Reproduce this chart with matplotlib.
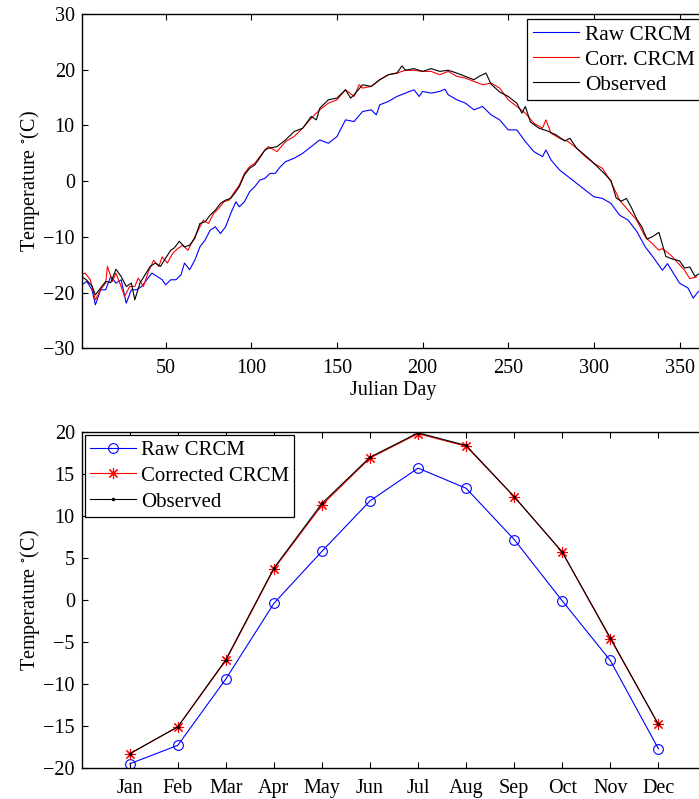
import numpy as np
import matplotlib
matplotlib.use("Agg")
import matplotlib.pyplot as plt

plt.rcParams['font.family'] = ['Liberation Serif', 'DejaVu Serif']
plt.rcParams['mathtext.fontset'] = 'stix'
plt.rcParams['font.size'] = 14.5

# ---- daily series (top panel) ----
obs_days = [1, 4, 7, 9, 12, 15, 18, 21, 24, 27,
            30, 32, 35, 38, 41, 44, 47, 50, 53, 55,
            58, 61, 64, 67, 70, 73, 76, 79, 82, 85,
            88, 91, 93, 96, 99, 102, 105, 108, 110, 115,
            120, 125, 130, 135, 138, 140, 145, 150, 155, 158,
            160, 165, 170, 175, 180, 185, 188, 190, 195, 200,
            205, 210, 215, 220, 225, 230, 233, 237, 240, 245,
            250, 255, 258, 260, 263, 268, 273, 278, 283, 286,
            290, 295, 298, 302, 306, 310, 313, 316, 319, 322,
            325, 328, 331, 334, 338, 342, 346, 350, 353, 356,
            359, 362]
obs_vals = [-17.1, -17.8, -18.8, -20.4, -19.2, -18.0, -18.2, -15.8, -17.1, -18.9,
            -18.3, -21.3, -18.3, -16.8, -15.3, -14.7, -15.3, -13.8, -12.4, -12.0,
            -10.8, -11.8, -11.5, -10.3, -7.6, -7.3, -6.1, -5.2, -4.0, -3.4,
            -3.1, -1.9, -1.0, 1.1, 2.3, 2.9, 4.2, 5.6, 5.9, 6.2,
            7.4, 8.9, 9.5, 11.6, 11.0, 13.1, 14.6, 14.9, 16.4, 14.9,
            15.5, 17.3, 17.0, 18.2, 19.1, 19.4, 20.7, 19.9, 20.2, 19.7,
            20.2, 19.7, 19.9, 19.4, 18.8, 18.2, 18.8, 19.4, 17.4, 16.0,
            15.2, 14.0, 12.2, 13.4, 10.6, 9.5, 9.0, 8.3, 7.2, 7.7,
            5.9, 4.6, 3.8, 2.6, 1.4, 0.1, -3.0, -3.6, -3.1, -4.8,
            -6.8, -8.2, -10.4, -10.0, -9.2, -13.5, -14.0, -14.3, -15.6, -15.4,
            -17.1, -16.5]

corr_days = [1, 3, 6, 9, 12, 15, 16, 19, 21, 24,
             26, 29, 32, 34, 37, 40, 43, 46, 48, 51,
             54, 57, 60, 63, 66, 69, 72, 75, 78, 81,
             84, 87, 90, 93, 96, 99, 102, 105, 108, 110,
             115, 120, 125, 130, 135, 140, 145, 150, 155, 160,
             163, 165, 170, 175, 180, 185, 190, 195, 200, 205,
             210, 215, 220, 225, 230, 235, 240, 245, 250, 255,
             260, 265, 270, 272, 275, 280, 285, 290, 295, 300,
             305, 310, 315, 320, 325, 330, 335, 338, 340, 345,
             350, 353, 356, 360]
corr_vals = [-16.8, -16.5, -17.7, -21.3, -19.5, -18.3, -15.3, -18.0, -16.5, -18.9,
             -20.7, -18.9, -18.9, -17.4, -18.9, -16.2, -14.2, -15.3, -13.6, -14.7,
             -13.0, -12.1, -11.5, -12.4, -10.6, -8.8, -7.0, -7.6, -5.8, -4.9,
             -3.7, -3.4, -2.0, -0.7, 1.4, 2.6, 3.2, 4.4, 5.6, 6.2,
             5.3, 7.1, 8.0, 9.5, 11.3, 12.8, 14.0, 14.6, 16.4, 15.2,
             17.3, 16.7, 17.0, 18.2, 19.1, 19.4, 19.9, 19.9, 19.7, 19.7,
             19.1, 19.7, 18.8, 18.5, 17.9, 17.3, 17.6, 16.7, 14.6, 13.4,
             12.2, 10.4, 9.5, 11.0, 8.6, 7.7, 7.1, 5.9, 4.4, 3.2,
             2.3, -0.1, -3.4, -5.2, -7.0, -10.0, -11.5, -12.4, -12.1, -13.3,
             -15.0, -16.0, -17.5, -17.2]

raw_days = [1, 4, 7, 9, 12, 15, 18, 21, 24, 27,
            30, 33, 36, 39, 42, 45, 48, 50, 53, 56,
            59, 61, 64, 67, 70, 73, 76, 79, 82, 85,
            88, 91, 93, 96, 99, 102, 105, 108, 111, 114,
            117, 120, 125, 130, 135, 140, 145, 150, 155, 160,
            165, 170, 173, 175, 180, 185, 190, 195, 198, 200,
            205, 210, 213, 215, 220, 225, 230, 235, 240, 245,
            250, 255, 260, 265, 270, 272, 275, 280, 285, 290,
            295, 300, 305, 310, 315, 320, 325, 330, 335, 340,
            343, 345, 350, 355, 358, 361]
raw_vals = [-18.6, -18.0, -19.5, -22.2, -19.5, -19.5, -17.1, -18.3, -17.7, -21.9,
            -19.5, -19.5, -18.9, -17.7, -16.5, -17.1, -17.7, -18.6, -17.7, -17.7,
            -16.8, -14.7, -15.9, -14.2, -11.8, -10.6, -8.8, -8.2, -9.4, -8.2,
            -5.8, -3.7, -4.6, -3.7, -1.9, -1.0, 0.2, 0.5, 1.4, 1.4,
            2.6, 3.5, 4.1, 5.0, 6.2, 7.4, 6.8, 8.0, 11.0, 10.7,
            12.5, 12.8, 11.9, 13.7, 14.3, 15.2, 15.8, 16.4, 15.2, 16.1,
            15.8, 16.1, 16.5, 15.5, 14.6, 14.0, 12.8, 13.4, 11.9, 11.0,
            9.2, 9.2, 7.1, 5.3, 4.4, 5.6, 3.8, 2.0, 0.8, -0.4,
            -1.6, -2.8, -3.1, -4.0, -6.1, -7.0, -9.0, -11.8, -13.8, -16.0,
            -14.8, -15.8, -18.3, -19.2, -21.0, -19.8]

# ---- monthly means (bottom panel) ----
months = ['Jan', 'Feb', 'Mar', 'Apr', 'May', 'Jun',
          'Jul', 'Aug', 'Sep', 'Oct', 'Nov', 'Dec']
raw_monthly = [-19.5, -17.3, -9.4, -0.4, 5.8, 11.8, 15.7, 13.3, 7.2, -0.1, -7.2, -17.7]
corr_monthly = [-18.3, -15.1, -7.2, 3.7, 11.3, 16.9, 19.8, 18.3, 12.3, 5.7, -4.6, -14.8]
obs_monthly = [-18.3, -15.1, -7.1, 3.8, 11.5, 17.0, 19.9, 18.4, 12.3, 5.7, -4.5, -14.8]

W, H = 699, 799
fig = plt.figure(figsize=(W / 100, H / 100), dpi=100)

def px_axes(left, top, right, bottom):
    return fig.add_axes([left / W, 1 - bottom / H, (right - left) / W, (bottom - top) / H])

def style(ax):
    ax.tick_params(direction='in', top=True, right=True, length=4.5, width=0.8)
    ax.tick_params(axis='x', pad=8)
    ax.tick_params(axis='y', pad=5)
    for s in ax.spines.values():
        s.set_linewidth(1.0)

# top panel
ax1 = px_axes(81.7, 14, 705.2, 348.3)
ax1.plot(raw_days, raw_vals, color='b', lw=0.8, label='Raw CRCM')
ax1.plot(corr_days, corr_vals, color='r', lw=0.8, label='Corr. CRCM')
ax1.plot(obs_days, obs_vals, color='k', lw=0.8, label='Observed')
ax1.set_xlim(1, 365)
ax1.set_ylim(-30, 30)
ax1.set_xticks(range(50, 351, 50))
ax1.set_yticks(range(-30, 31, 10))
ax1.set_xlabel('Julian Day', labelpad=2)
ax1.set_ylabel('Temperature $^{\\circ}$(C)', labelpad=1)
style(ax1)
leg1 = ax1.legend(loc='upper right', fancybox=False, edgecolor='k', framealpha=1,
                  fontsize=15.3, borderaxespad=0.25, handlelength=2.2,
                  handletextpad=0.25, labelspacing=0.25, borderpad=0.25)
leg1.get_frame().set_linewidth(0.9)

# bottom panel
ax2 = px_axes(81.7, 432, 706.4, 768)
x = np.arange(1, 13)
ax2.plot(x, raw_monthly, color='b', lw=0.8, marker='o', mfc='none', mec='b',
         ms=7, mew=0.8, label='Raw CRCM')
ax2.plot(x, corr_monthly, color='r', lw=0.8, marker=(8, 2, 0), mec='r',
         ms=8, mew=0.8, label='Corrected CRCM')
ax2.plot(x, obs_monthly, color='k', lw=0.8, marker='.', ms=3, label='Observed')
ax2.set_xlim(0, 13)
ax2.set_ylim(-20, 20)
ax2.set_xticks(x)
ax2.set_xticklabels(months)
ax2.set_yticks(range(-20, 21, 5))
ax2.set_ylabel('Temperature $^{\\circ}$(C)', labelpad=1)
style(ax2)
leg2 = ax2.legend(loc='upper left', fancybox=False, edgecolor='k', framealpha=1,
                  fontsize=15, borderaxespad=0.15, handlelength=2.2,
                  handletextpad=0.25, labelspacing=0.3, borderpad=0.25)
leg2.get_frame().set_linewidth(0.9)

fig.savefig('out.png', dpi=100)
